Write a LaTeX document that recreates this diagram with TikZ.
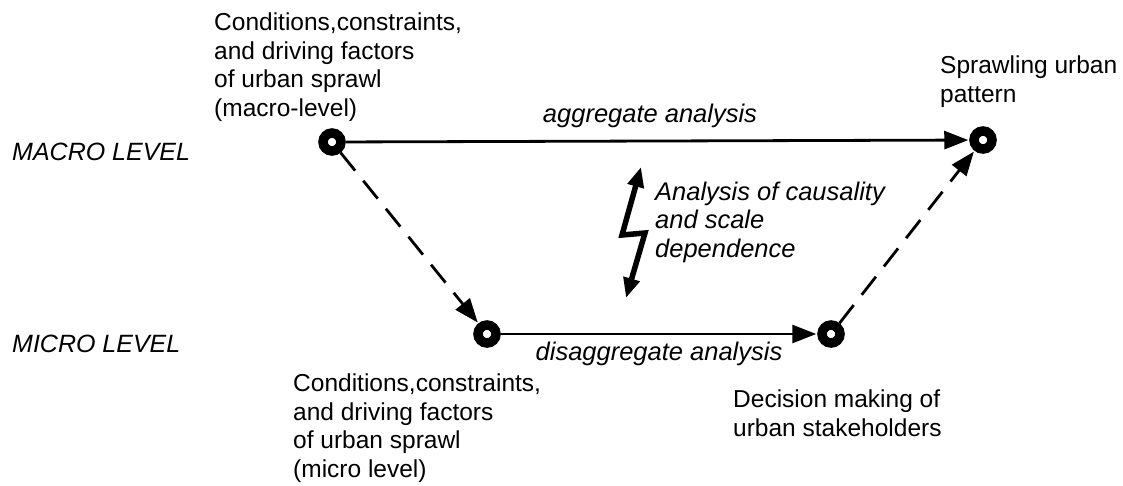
\documentclass[tikz,border=0pt]{standalone}
\usepackage{fontspec}
\setmainfont{Liberation Sans}
\usetikzlibrary{arrows.meta}
\tikzset{
  txt/.style={inner sep=0pt, align=left, font=\fontsize{24.5}{28.5}\selectfont},
  itxt/.style={inner sep=0pt, align=left, font=\fontsize{25.5}{28.5}\selectfont\itshape},
  lvl/.style={inner sep=0pt, font=\fontsize{25}{28.5}\selectfont\itshape},
  state/.style={circle, draw=black, line width=9.5pt, minimum size=18pt, inner sep=0pt},
  flow/.style={line width=2.8pt, -{Triangle[length=24pt,width=18pt]}, shorten >=1pt},
  flowdash/.style={flow, dash pattern=on 23pt off 13pt},
  bolt/.style={line width=5.5pt, line join=miter,
    {Triangle[length=20pt,width=16pt]}-{Triangle[length=20pt,width=16pt]}}
}
\begin{document}
\begin{tikzpicture}[x=1pt,y=-1pt]
\useasboundingbox (0,0) rectangle (1123,485);

% level labels
\node[lvl, anchor=base west] (macro) at (12,160) {MACRO LEVEL};
\node[lvl, anchor=base west] (micro) at (12,352) {MICRO LEVEL};

% states
\node[state] (A) at (332,142) {};
\node[state] (B) at (983,140) {};
\node[state] (C) at (487,334) {};
\node[state] (D) at (831,334) {};

% descriptions of the states
\node[txt, anchor=north west] (tA) at (214,12.6)
  {Conditions,constraints,\\and driving factors\\of urban sprawl\\(macro-level)};
\node[txt, anchor=north west] (tB) at (940,56) {Sprawling urban\\pattern};
\node[txt, anchor=north west] (tC) at (293,374)
  {Conditions,constraints,\\and driving factors\\of urban sprawl\\(micro level)};
\node[txt, anchor=north west] (tD) at (733,390) {Decision making of\\urban stakeholders};

% transitions
\draw[flow] (A) -- (B);
\node[itxt, anchor=base] (agg) at (650,122) {aggregate analysis};
\draw[flowdash] (A) -- (C);
\draw[flow] (C) -- (D);
\node[itxt, anchor=base] (dis) at (659,360) {disaggregate analysis};
\draw[flowdash] (D) -- (B);

% causality between the levels
\coordinate (bt) at (641,167);
\coordinate (bl) at (622,235);
\coordinate (br) at (645,233);
\coordinate (bb) at (626,298);
\draw[bolt] (bt) -- (bl) -- (br) -- (bb);
\node[itxt, anchor=north west] (cause) at (655,181.4)
  {Analysis of causality\\and scale\\dependence};
\end{tikzpicture}
\end{document}
